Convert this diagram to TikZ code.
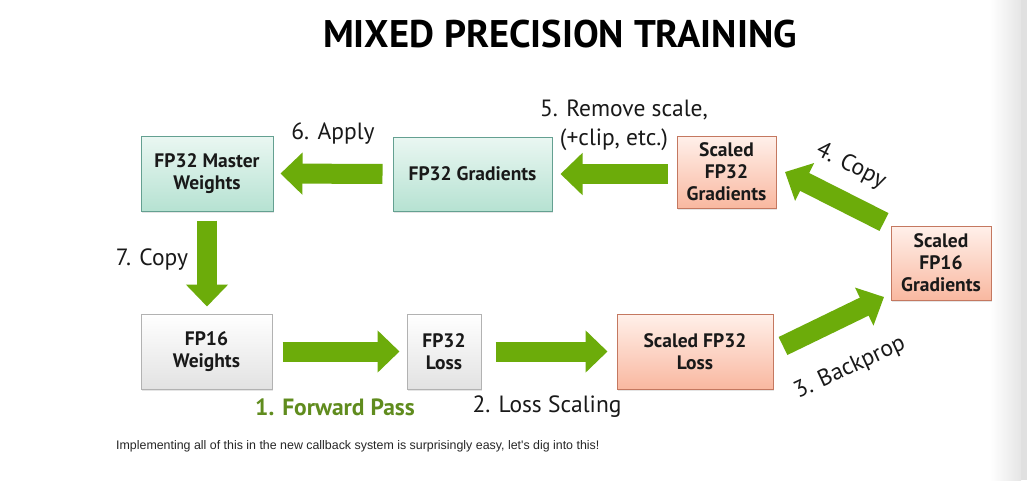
\documentclass[tikz,border=0pt]{standalone}
\usepackage{fontspec}
\setmainfont{PT Sans}
\newfontfamily\arialf{Liberation Sans}
\usetikzlibrary{arrows.meta,shadows,calc}
\definecolor{agreen}{RGB}{108,172,10}
\definecolor{fwdgreen}{RGB}{96,140,30}
\definecolor{tealT}{RGB}{234,247,242}
\definecolor{tealBot}{RGB}{182,226,210}
\definecolor{tealB}{RGB}{100,160,145}
\definecolor{salT}{RGB}{255,240,234}
\definecolor{salBot}{RGB}{249,184,160}
\definecolor{salB}{RGB}{196,120,96}
\definecolor{grT}{RGB}{255,255,255}
\definecolor{grBot}{RGB}{226,226,226}
\definecolor{grB}{RGB}{178,178,178}
\definecolor{txt}{RGB}{25,25,25}
\tikzset{
  box/.style={draw, line width=1pt, align=center, text=txt,
    font=\bfseries\fontsize{19.5}{22}\selectfont, inner sep=0pt,
    drop shadow={shadow xshift=1pt, shadow yshift=-1.5pt, opacity=0.2}},
  tealbox/.style={box, draw=tealB, top color=tealT, bottom color=tealBot},
  salbox/.style={box, draw=salB, top color=salT, bottom color=salBot},
  graybox/.style={box, draw=grB, top color=grT, bottom color=grBot},
  fat/.style={draw=agreen, line width=20pt, -{Triangle[length=22pt,width=41pt]}},
  lbl/.style={text=txt, font=\fontsize{23.5}{27}\selectfont, align=center, inner sep=0pt},
}
\begin{document}
\begin{tikzpicture}[x=1pt,y=-1pt]
\useasboundingbox (0,0) rectangle (1027,480);
\fill[white] (0,0) rectangle (1027,480);
\shade[left color=white, right color=black!10] (990,0) rectangle (1021,480);
\fill[black!12] (1021,0) rectangle (1027,480);

\node[font=\bfseries\fontsize{38.5}{44}\selectfont, text=black, inner sep=0pt] (title) at (560,34) {MIXED PRECISION TRAINING};

\node[tealbox, minimum width=132pt, minimum height=75pt] (mw) at (207,173.5) {FP32 Master\\Weights};
\node[tealbox, minimum width=159pt, minimum height=74pt] (fg) at (472.5,174) {FP32 Gradients};
\node[salbox, minimum width=99pt, minimum height=72pt] (sfg) at (726.5,172) {Scaled\\FP32\\Gradients};
\node[salbox, minimum width=100pt, minimum height=74pt] (sf16) at (941,263) {Scaled\\FP16\\Gradients};
\node[graybox, minimum width=131pt, minimum height=75pt] (w16) at (206.5,351.5) {FP16\\Weights};
\node[graybox, minimum width=74pt, minimum height=75pt] (loss) at (444,351.5) {FP32\\Loss};
\node[salbox, minimum width=156pt, minimum height=75pt] (sloss) at (695,351.5) {Scaled FP32\\Loss};

\coordinate (b3s) at (783,346);
\coordinate (b3e) at (884,297);
\coordinate (c4s) at (884,222);
\coordinate (c4e) at (785,172);

\draw[fat, shorten <=10pt, shorten >=7pt] (fg.west) -- (mw.east);
\draw[fat, shorten <=9pt, shorten >=8pt] (sfg.west |- fg.east) -- (fg.east);
\draw[fat, shorten <=9pt, shorten >=7pt] (mw.south) -- (mw.south |- w16.north);
\draw[fat, shorten <=10pt, shorten >=7pt] (w16.east) -- (loss.west);
\draw[fat, shorten <=14pt, shorten >=9pt] (loss.east) -- (sloss.west);
\draw[fat] (b3s) -- (b3e);
\draw[fat] (c4s) -- (c4e);

\node[lbl] (l6) at (333,134) {6. Apply};
\node[lbl] (l5a) at (624,110) {5. Remove scale,};
\node[lbl] (l5b) at (614,140) {(+clip, etc.)};
\node[lbl, rotate=-27] (l4) at (851,166) {4. Copy};
\node[lbl] (l7) at (152,260) {7. Copy};
\node[lbl, text=fwdgreen, font=\bfseries\fontsize{23.5}{27}\selectfont] (l1) at (335,407) {1. Forward Pass};
\node[lbl] (l2) at (547,407) {2. Loss Scaling};
\node[lbl, rotate=25] (l3) at (850,368) {3. Backprop};

\node[anchor=west, inner sep=0pt, font=\arialf\fontsize{12.4}{14}\selectfont, text=black!85] (note) at (116,446) {Implementing all of this in the new callback system is surprisingly easy, let's dig into this!};
\end{tikzpicture}
\end{document}
